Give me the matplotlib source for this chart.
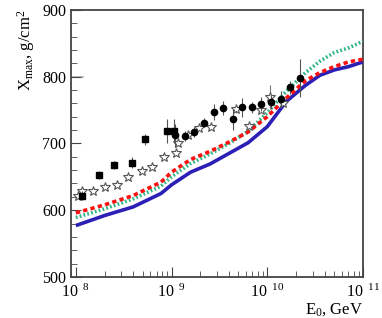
import numpy as np
import matplotlib
matplotlib.use('Agg')
import matplotlib.pyplot as plt

plt.rcParams['font.family'] = 'Liberation Serif'
plt.rcParams['mathtext.fontset'] = 'custom'
plt.rcParams['mathtext.rm'] = 'Liberation Serif'
plt.rcParams['mathtext.it'] = 'Liberation Serif'

# model curves, log10(E0/GeV)
lg_model = [8.0, 8.3, 8.6, 8.89, 9.0, 9.2, 9.4, 9.6, 9.8, 10.0, 10.2, 10.4, 10.55, 10.7, 10.85, 11.0]
xmax_blue = [577, 592, 605, 625, 638, 657, 669, 685, 701, 725, 763, 787, 802, 810, 815, 822]
xmax_red = [596, 608, 622, 642, 657, 676, 688, 702, 717, 740, 768, 794, 806, 815, 822, 826]
xmax_green = [589, 602, 617, 636, 650, 670, 684, 700, 718, 746, 778, 806, 823, 836, 843, 853]

# squares
lg_sq = [8.06, 8.24, 8.40, 8.59, 8.72, 8.95, 9.03]
xmax_sq = [622, 652, 667, 671, 706, 718, 718]
err_sq = [7, 6, 6, 8, 8, 18, 18]

# circles
lg_ci = [9.04, 9.14, 9.24, 9.34, 9.44, 9.54, 9.64, 9.74, 9.84, 9.94, 10.04, 10.14, 10.24, 10.34]
xmax_ci = [712, 711, 717, 731, 747, 753, 736, 754, 754, 759, 762, 766, 784, 798]
err_ci = [17, 8, 8, 7, 12, 10, 16, 14, 8, 10, 10, 12, 10, 28]

# stars
lg_st = [8.02, 8.06, 8.18, 8.31, 8.43, 8.55, 8.69, 8.80, 8.92, 9.05, 9.07, 9.17, 9.29,
         9.41, 9.67, 9.81, 9.93, 10.03, 10.16]
xmax_st = [621, 629, 629, 634, 638, 650, 658, 664, 680, 686, 700, 713, 723,
           724, 751, 726, 750, 769, 760]
err_st = [0, 5, 0, 0, 0, 0, 0, 0, 0, 0, 0, 0, 0, 0, 6, 0, 0, 18, 0]

xticks = [8, 9, 10, 11]
yticks = [500, 600, 700, 800, 900]

E = lambda lg: 10.0 ** np.array(lg)

fig = plt.figure(figsize=(3.82, 3.18), dpi=100)
ax = fig.add_axes([0.186, 0.129, 0.764, 0.840])

ax.plot(E(lg_model), xmax_blue, color='#2b1fb5', lw=2.6, solid_capstyle='butt', zorder=3)
ax.plot(E(lg_model), xmax_red, color='#ff1010', lw=2.6, ls=(0, (1.2, 0.9)), zorder=4)
ax.plot(E(lg_model), xmax_green, color='#2fb586', lw=2.6, ls=(0, (0.5, 0.6)), zorder=3)

ax.errorbar(E(lg_st), xmax_st, yerr=err_st, fmt='*', ms=7.5, mfc='white', mec='#555555',
            mew=0.8, ecolor='#777777', elinewidth=0.8, capsize=0, zorder=5)
ax.errorbar(E(lg_sq), xmax_sq, yerr=err_sq, fmt='s', ms=4.5, color='black',
            ecolor='#555555', elinewidth=0.8, capsize=0, zorder=6)
ax.errorbar(E(lg_ci), xmax_ci, yerr=err_ci, fmt='o', ms=4.5, color='black',
            ecolor='#555555', elinewidth=0.8, capsize=0, zorder=6)

# faint grey mark at 800 on the left edge
ax.axhline(800, xmax=0.04, color='#b0b0b0', lw=1.2, zorder=1)

ax.set_xscale('log')
ax.set_xlim(10 ** 7.95, 10 ** 11)
ax.set_ylim(500, 900)

ax.set_xticks(E(xticks))
ax.set_xticklabels([r'$\mathregular{10^{\ \ %d}}$' % e for e in xticks])
ax.set_yticks(yticks)
ax.set_yticks(np.arange(500, 901, 20), minor=True)
ax.xaxis.set_minor_locator(matplotlib.ticker.LogLocator(base=10, subs=np.arange(2, 10)))
ax.xaxis.set_minor_formatter(matplotlib.ticker.NullFormatter())

ax.tick_params(which='both', direction='in', top=False, right=False, labelsize=11.5,
               color='#444444')
ax.tick_params(which='major', length=7, width=0.8)
ax.tick_params(which='minor', length=4, width=0.6)
ax.tick_params(axis='x', pad=5)

for s in ax.spines.values():
    s.set_linewidth(1.3)
    s.set_color('#444444')

ax.set_ylabel(r'$\mathregular{X_{max}}$, g/cm$\mathregular{^{2}}$', loc='top', fontsize=12)
ax.set_xlabel(r'$\mathregular{E_{0}}$, GeV', loc='right', fontsize=12, labelpad=0)

fig.savefig('out.png', dpi=100)
